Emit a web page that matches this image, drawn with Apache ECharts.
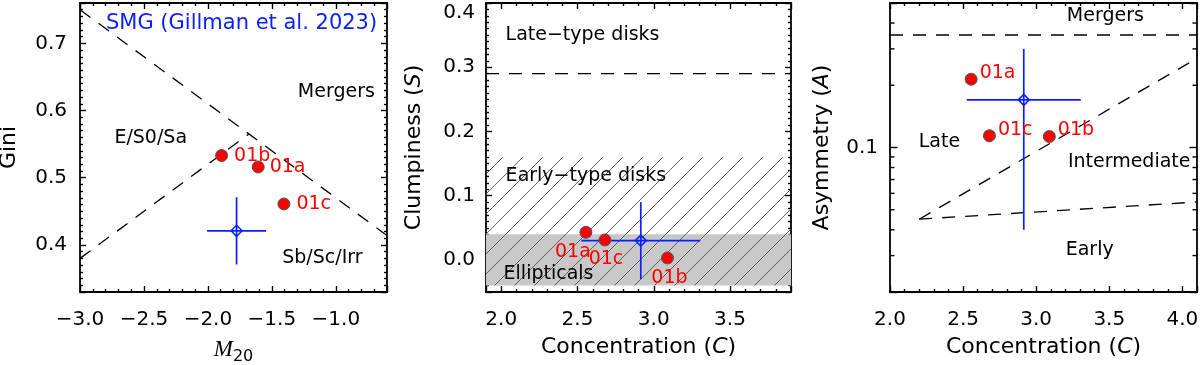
<!DOCTYPE html>
<html><head><meta charset="utf-8">
<script src="https://cdn.jsdelivr.net/npm/echarts@6/dist/echarts.min.js"></script>
<style>html,body{margin:0;padding:0;background:#fff}#c{width:1200px;height:365px}</style>
</head><body><div id="c"></div><script>
// ---------------- data ----------------
const objNames = ['01a', '01b', '01c'];
const objM20   = [-1.607, -1.893, -1.406];
const objGini  = [0.516, 0.533, 0.461];
const objConc  = [2.555, 3.09, 2.68];
const objClump = [0.043, 0.003, 0.031];
const objAsym  = [0.214, 0.113, 0.114];

const smgM20 = -1.776, smgM20Err = 0.23;
const smgGini = 0.421, smgGiniErr = 0.05;
const smgConc = 2.915, smgConcErr = 0.39;
const smgClump = 0.030, smgClumpErr = 0.06;
const smgAsym = 0.17, smgAsymErr = 0.13;

const m20Range   = [-3.0, -0.6];
const giniRange  = [0.33, 0.76];
const concRangeS = [1.9, 3.9];
const clumpRange = [-0.05, 0.4];
const concRangeA = [2.0, 4.1];
const asymRange  = [0.02, 0.5];
const asymMinorTicks = [0.03, 0.04, 0.05, 0.06, 0.07, 0.08, 0.09, 0.2, 0.3, 0.4];

const mergerBoundaryG = [[-3.0, 0.75], [-0.6, 0.414]];
const typeBoundaryG   = [[-3.0, 0.38], [-1.68, 0.565]];
const diskBoundaryS   = 0.29;
const ellipticalBand  = [-0.04, 0.04];
const earlyDiskBand   = [-0.04, 0.16];
const mergerBoundaryA = 0.35;
const lateBoundaryA   = [[2.2, 0.045], [4.1, 0.27]];
const earlyBoundaryA  = [[2.2, 0.045], [4.1, 0.0545]];

const notesGini  = [['SMG (Gillman et al. 2023)', -1.737, 0.730], ['Mergers', -0.996, 0.628], ['E/S0/Sa', -2.447, 0.559], ['Sb/Sc/Irr', -1.105, 0.381]];
const notesClump = [['Late\u2212type disks', 2.533, 0.350], ['Early\u2212type disks', 2.555, 0.130], ['Ellipticals', 2.31, -0.0215]];
const notesAsym  = [['Mergers', 3.473, 0.430], ['Late', 2.338, 0.1068], ['Intermediate', 3.636, 0.0855], ['Early', 3.366, 0.0318]];

// ---------------- style ----------------
const FONT = 'DejaVu Sans';
const INK = '#000';
const RED = '#ff0000';
const BLUE = '#0a1eff';
const LINE = {color: INK, width: 1.8};
const TICK = {color: INK, width: 1.4};

function fmt1(step, range, shiftTop) {
  return v => {
    const k = v / step;
    if (Math.abs(k - Math.round(k)) >= 1e-6) return '';
    const s = v.toFixed(1).replace('-', '\u2212');
    return (shiftTop && Math.abs(v - range[1]) < 1e-9) ? '{t|' + s + '}' : s;
  };
}
function linAxes(dim, gi, range, major, minorSplit, margin, name, nameGap, shiftTop) {
  const posA = dim === 'x' ? 'bottom' : 'left', posB = dim === 'x' ? 'top' : 'right';
  const base = {gridIndex: gi, type: 'value', min: range[0], max: range[1], splitLine: {show: false},
    minInterval: major, maxInterval: major, splitNumber: 5,
    axisLine: {show: true, onZero: false, lineStyle: LINE},
    axisTick: {show: true, inside: true, length: 6, lineStyle: TICK},
    minorTick: {show: true, splitNumber: minorSplit, length: 3, lineStyle: TICK},
    minorSplitLine: {show: false}};
  const nameStyle = {fontFamily: FONT, fontSize: 22, color: INK,
    rich: {i: {fontFamily: FONT, fontSize: 22, fontStyle: 'italic', color: INK},
           m: {fontFamily: 'Liberation Serif', fontSize: 23, fontStyle: 'italic', color: INK, verticalAlign: 'top', lineHeight: 26},
           s: {fontFamily: FONT, fontSize: 16, color: INK, verticalAlign: 'bottom', lineHeight: 26, padding: [14, 0, 0, 0]}}};
  return [
    Object.assign({}, base, {position: posA,
      axisLabel: {show: true, margin: margin, fontFamily: FONT, fontSize: 20, color: INK, formatter: fmt1(major, range, shiftTop),
        rich: {t: {fontFamily: FONT, fontSize: 20, color: INK, padding: [20, 0, 0, 0]}}},
      name: name, nameLocation: 'middle', nameGap: nameGap, nameTextStyle: nameStyle}),
    Object.assign({}, base, {position: posB, axisLabel: {show: false}})
  ];
}

const xAxes = [].concat(
  linAxes('x', 0, m20Range, 0.5, 5, 18, '{m|M}{s|20}', 40, false),
  linAxes('x', 1, concRangeS, 0.5, 5, 18, 'Concentration ({i|C})', 44, false),
  linAxes('x', 2, concRangeA, 0.5, 5, 18, 'Concentration ({i|C})', 44, false)
);
const yAxes = [].concat(
  linAxes('y', 0, giniRange, 0.1, 10, 13, 'Gini', 60, false),
  linAxes('y', 1, clumpRange, 0.1, 10, 11, 'Clumpiness ({i|S})', 61, true),
  [
    {gridIndex: 2, type: 'log', logBase: 10, min: asymRange[0], max: asymRange[1], position: 'left',
     splitLine: {show: false}, axisLine: {show: true, onZero: false, lineStyle: LINE},
     axisTick: {show: true, inside: true, length: 7.5, lineStyle: TICK},
     axisLabel: {margin: 12, fontFamily: FONT, fontSize: 20, color: INK, formatter: v => Math.abs(v - 0.1) < 1e-9 ? '0.1' : ''},
     name: 'Asymmetry ({i|A})', nameLocation: 'middle', nameGap: 57,
     nameTextStyle: {fontFamily: FONT, fontSize: 22, color: INK, rich: {i: {fontFamily: FONT, fontSize: 22, fontStyle: 'italic', color: INK}}}},
    {gridIndex: 2, type: 'log', logBase: 10, min: asymRange[0], max: asymRange[1], position: 'right',
     splitLine: {show: false}, axisLine: {show: true, onZero: false, lineStyle: LINE},
     axisTick: {show: true, inside: true, length: 7.5, lineStyle: TICK}, axisLabel: {show: false}}
  ]
);
// axis indices: grid0 -> 0, grid1 -> 2, grid2 -> 4

// ---------------- series helpers ----------------
function dashLine(xi, yi, pts) {
  return {type: 'line', xAxisIndex: xi, yAxisIndex: yi, data: pts, symbol: 'none', silent: true, z: 4,
    lineStyle: {color: INK, width: 1.3, type: [13, 10]}};
}
function notes(xi, yi, list, color, size) {
  return {type: 'scatter', xAxisIndex: xi, yAxisIndex: yi, symbolSize: 0, silent: true, z: 8,
    itemStyle: {opacity: 1},
    data: list.map(n => ({name: n[0], value: [n[1], n[2]]})),
    label: {show: true, position: 'inside', formatter: '{b}', fontFamily: FONT, fontSize: size, color: color, opacity: 1}};
}
function points(xi, yi, xs, ys, labelCfg) {
  return {type: 'scatter', xAxisIndex: xi, yAxisIndex: yi, symbol: 'circle', symbolSize: 12, z: 6, silent: true,
    itemStyle: {color: RED, borderColor: '#3f5f5f', borderWidth: 1, opacity: 1},
    data: objNames.map((n, i) => ({name: n, value: [xs[i], ys[i]],
      label: Object.assign({show: true, formatter: n, color: RED, fontFamily: FONT, fontSize: 19, opacity: 1}, labelCfg[n])}))};
}
function smg(xi, yi, x, ex, y, ey) {
  return [
    {type: 'custom', xAxisIndex: xi, yAxisIndex: yi, z: 5, silent: true, data: [[x, y, ex, ey]],
     renderItem: (params, api) => {
       const cx = api.value(0), cy = api.value(1), dx = api.value(2), dy = api.value(3);
       const l = api.coord([cx - dx, cy]), r = api.coord([cx + dx, cy]);
       const b = api.coord([cx, cy - dy]), t = api.coord([cx, cy + dy]);
       return {type: 'group', children: [
         {type: 'line', shape: {x1: l[0], y1: l[1], x2: r[0], y2: r[1]}, style: {stroke: BLUE, lineWidth: 1.7}},
         {type: 'line', shape: {x1: b[0], y1: b[1], x2: t[0], y2: t[1]}, style: {stroke: BLUE, lineWidth: 1.7}}
       ]};
     }},
    {type: 'scatter', xAxisIndex: xi, yAxisIndex: yi, z: 7, silent: true, symbol: 'path://M0,-1L1,0L0,1L-1,0Z', symbolSize: 11,
     itemStyle: {color: 'rgba(255,255,255,0)', borderColor: BLUE, borderWidth: 1.5, opacity: 1}, data: [[x, y]]}
  ];
}
function hatch() {
  const c = document.createElement('canvas'); c.width = 20; c.height = 20;
  const g = c.getContext('2d'); g.strokeStyle = '#555'; g.lineWidth = 0.9;
  g.beginPath(); g.moveTo(-2, 22); g.lineTo(22, -2); g.stroke();
  return c;
}
function logTicks(xi, yi, xEdge, dir) {
  return {type: 'scatter', xAxisIndex: xi, yAxisIndex: yi, silent: true, clip: false, z: 3, symbol: 'rect',
    symbolSize: [4.5, 1.4], symbolOffset: [2.25 * dir, 0], itemStyle: {color: INK, opacity: 1},
    data: asymMinorTicks.map(v => [xEdge, v])};
}

const series = [].concat(
  // panel 1: Gini - M20
  [dashLine(0, 0, mergerBoundaryG), dashLine(0, 0, typeBoundaryG)],
  smg(0, 0, smgM20, smgM20Err, smgGini, smgGiniErr),
  [points(0, 0, objM20, objGini, {'01a': {position: 'right', distance: 5}, '01b': {position: 'right', distance: 6}, '01c': {position: 'right', distance: 6}})],
  [notes(0, 0, notesGini.slice(0, 1), BLUE, 21), notes(0, 0, notesGini.slice(1), INK, 19)],
  // panel 2: Clumpiness - C
  [{type: 'line', xAxisIndex: 2, yAxisIndex: 2, data: [], silent: true, z: 1,
    markArea: {silent: true, data: [
      [{yAxis: ellipticalBand[0], itemStyle: {color: '#c8c8c8'}}, {yAxis: ellipticalBand[1]}],
      [{yAxis: earlyDiskBand[0], itemStyle: {color: {image: hatch(), repeat: 'repeat'}}}, {yAxis: earlyDiskBand[1]}]
    ]}},
   dashLine(2, 2, [[concRangeS[0], diskBoundaryS], [concRangeS[1], diskBoundaryS]])],
  smg(2, 2, smgConc, smgConcErr, smgClump, smgClumpErr),
  [points(2, 2, objConc, objClump, {'01a': {position: 'bottom', distance: 4, offset: [-13, 0]}, '01b': {position: 'bottom', distance: 4, offset: [2, 0]}, '01c': {position: 'bottom', distance: 3, offset: [1, 0]}})],
  [notes(2, 2, notesClump, INK, 19)],
  // panel 3: Asymmetry - C
  [dashLine(4, 4, [[concRangeA[0], mergerBoundaryA], [concRangeA[1], mergerBoundaryA]]), dashLine(4, 4, lateBoundaryA), dashLine(4, 4, earlyBoundaryA)],
  [logTicks(4, 4, concRangeA[0], 1), logTicks(4, 4, concRangeA[1], -1)],
  smg(4, 4, smgConc, smgConcErr, smgAsym, smgAsymErr),
  [points(4, 4, objConc, objAsym, {'01a': {position: 'right', distance: 2, offset: [0, -6]}, '01b': {position: 'right', distance: 2, offset: [0, -6]}, '01c': {position: 'right', distance: 2, offset: [0, -6]}})],
  [notes(4, 4, notesAsym, INK, 19)]
);

const chart = echarts.init(document.getElementById('c'), null, {renderer: 'canvas'});
chart.setOption({
  animation: false,
  backgroundColor: '#fff',
  grid: [
    {left: 80, top: 3, width: 307, height: 289, containLabel: false, outerBoundsMode: 'none'},
    {left: 486, top: 3, width: 305, height: 289, containLabel: false, outerBoundsMode: 'none'},
    {left: 890, top: 3, width: 307, height: 289, containLabel: false, outerBoundsMode: 'none'}
  ],
  xAxis: xAxes,
  yAxis: yAxes,
  series: series
});
</script></body></html>
